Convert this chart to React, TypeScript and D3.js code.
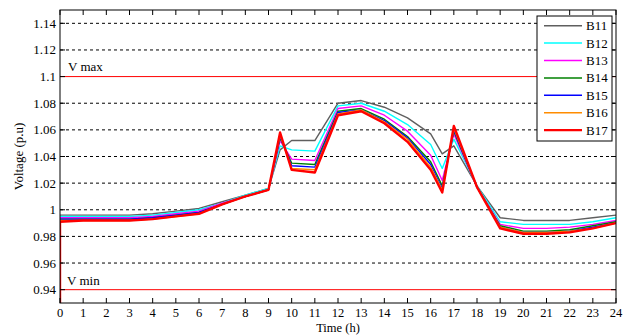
import { useEffect, useRef } from "react";
import * as d3 from "d3";

// hours of the day (half-hour steps around the switching events)
const times = [0, 1, 2, 3, 4, 5, 6, 7, 8, 9, 9.5, 10, 11, 12, 13, 14, 15, 16, 16.5, 17, 18, 19, 20, 21, 22, 23, 24];

const b11 = [0.996, 0.996, 0.996, 0.996, 0.997, 0.999, 1.001, 1.006, 1.011, 1.016, 1.045, 1.052, 1.052, 1.080, 1.082, 1.077, 1.069, 1.057, 1.042, 1.048, 1.018, 0.994, 0.992, 0.992, 0.992, 0.994, 0.996];
const b12 = [0.995, 0.995, 0.995, 0.995, 0.996, 0.998, 1.000, 1.005, 1.011, 1.016, 1.048, 1.045, 1.044, 1.078, 1.080, 1.074, 1.064, 1.049, 1.031, 1.053, 1.018, 0.991, 0.989, 0.989, 0.989, 0.991, 0.994];
const b13 = [0.994, 0.994, 0.994, 0.994, 0.995, 0.997, 0.999, 1.005, 1.010, 1.015, 1.052, 1.038, 1.037, 1.076, 1.078, 1.071, 1.059, 1.041, 1.022, 1.057, 1.017, 0.989, 0.986, 0.986, 0.987, 0.989, 0.992];
const b14 = [0.993, 0.993, 0.993, 0.993, 0.994, 0.996, 0.998, 1.004, 1.010, 1.015, 1.054, 1.035, 1.034, 1.074, 1.076, 1.068, 1.055, 1.036, 1.018, 1.059, 1.017, 0.988, 0.984, 0.984, 0.985, 0.988, 0.991];
const b15 = [0.993, 0.993, 0.993, 0.993, 0.994, 0.996, 0.998, 1.004, 1.010, 1.015, 1.055, 1.033, 1.032, 1.073, 1.075, 1.067, 1.054, 1.034, 1.016, 1.060, 1.017, 0.987, 0.983, 0.983, 0.984, 0.987, 0.990];
const b16 = [0.992, 0.992, 0.992, 0.992, 0.993, 0.995, 0.997, 1.004, 1.010, 1.015, 1.056, 1.031, 1.030, 1.072, 1.075, 1.066, 1.053, 1.032, 1.015, 1.061, 1.017, 0.987, 0.983, 0.983, 0.984, 0.986, 0.990];
const b17 = [0.991, 0.992, 0.992, 0.992, 0.993, 0.995, 0.997, 1.004, 1.010, 1.015, 1.058, 1.030, 1.028, 1.071, 1.074, 1.065, 1.051, 1.030, 1.013, 1.063, 1.017, 0.986, 0.982, 0.982, 0.983, 0.986, 0.990];

const seriesNames = ["B11", "B12", "B13", "B14", "B15", "B16", "B17"];
const seriesValues = [b11, b12, b13, b14, b15, b16, b17];
const seriesColors = ["#5f5f5f", "#00ffff", "#ff00ff", "#008000", "#0000ff", "#ff8c00", "#ff0000"];

const yTicks = [0.94, 0.96, 0.98, 1, 1.02, 1.04, 1.06, 1.08, 1.1, 1.12, 1.14];
const xTicks = d3.range(0, 25);
const vMax = 1.1;
const vMin = 0.94;

export default function App() {
  const svgRef = useRef<SVGSVGElement>(null);

  useEffect(() => {
    if (!svgRef.current) return;
    const svg = d3.select(svgRef.current);
    svg.selectAll("*").remove();

    const left = 60, right = 616, top = 10, bottom = 303;
    const font = "'Liberation Serif', 'DejaVu Serif', serif";

    const x = d3.scaleLinear().domain([0, 24]).range([left, right]);
    const y = d3.scaleLinear().domain([0.93, 1.15]).range([bottom, top]);

    svg.append("rect").attr("width", 630).attr("height", 336).attr("fill", "#fff");

    svg.append("defs").append("clipPath").attr("id", "plot")
      .append("rect").attr("x", left).attr("y", top)
      .attr("width", right - left).attr("height", bottom - top);

    // dashed grid
    svg.append("g").selectAll("line")
      .data(yTicks.filter((t) => t !== vMax && t !== vMin))
      .enter().append("line")
      .attr("x1", left).attr("x2", right)
      .attr("y1", (d) => y(d)).attr("y2", (d) => y(d))
      .attr("stroke", "#000").attr("stroke-width", 1)
      .attr("stroke-dasharray", "3,3");

    // limits
    [vMax, vMin].forEach((v) => {
      svg.append("line")
        .attr("x1", left).attr("x2", right)
        .attr("y1", y(v)).attr("y2", y(v))
        .attr("stroke", "#ff0000").attr("stroke-width", 1);
    });
    svg.append("text").attr("x", 68).attr("y", y(vMax) - 6)
      .style("font-family", font).attr("font-size", 13).text("V max");
    svg.append("text").attr("x", 67).attr("y", y(vMin) - 5)
      .style("font-family", font).attr("font-size", 13).text("V min");

    // series
    const line = d3.line<[number, number]>()
      .x((d) => x(d[0]))
      .y((d) => y(d[1]));

    const g = svg.append("g").attr("clip-path", "url(#plot)");
    seriesValues.forEach((vals, i) => {
      const pts: [number, number][] = vals.map((v, j) => [times[j], v]);
      if (i === seriesValues.length - 1) pts.unshift([0, 0]);
      g.append("path")
        .attr("d", line(pts))
        .attr("fill", "none")
        .attr("stroke", seriesColors[i])
        .attr("stroke-width", i === seriesValues.length - 1 ? 2.4 : 1.4)
        .attr("stroke-linejoin", "round");
    });

    // frame
    svg.append("rect").attr("x", left).attr("y", top)
      .attr("width", right - left).attr("height", bottom - top)
      .attr("fill", "none").attr("stroke", "#000").attr("stroke-width", 1);

    // ticks, inward on all four sides
    const tickLen = 5;
    const tg = svg.append("g").attr("stroke", "#000").attr("stroke-width", 1);
    xTicks.forEach((t) => {
      tg.append("line").attr("x1", x(t)).attr("x2", x(t)).attr("y1", bottom).attr("y2", bottom - tickLen);
      tg.append("line").attr("x1", x(t)).attr("x2", x(t)).attr("y1", top).attr("y2", top + tickLen);
    });
    yTicks.forEach((t) => {
      tg.append("line").attr("x1", left).attr("x2", left + tickLen).attr("y1", y(t)).attr("y2", y(t));
      tg.append("line").attr("x1", right).attr("x2", right - tickLen).attr("y1", y(t)).attr("y2", y(t));
    });

    svg.append("g").selectAll("text").data(xTicks).enter().append("text")
      .attr("x", (d) => x(d)).attr("y", bottom + 14)
      .attr("text-anchor", "middle")
      .style("font-family", font).attr("font-size", 12.5)
      .text((d) => String(d));

    svg.append("g").selectAll("text").data(yTicks).enter().append("text")
      .attr("x", left - 4).attr("y", (d) => y(d) + 4.5)
      .attr("text-anchor", "end")
      .style("font-family", font).attr("font-size", 13)
      .text((d) => String(d));

    svg.append("text").attr("x", (left + right) / 2).attr("y", 332)
      .attr("text-anchor", "middle")
      .style("font-family", font).attr("font-size", 12.5).text("Time (h)");

    svg.append("text")
      .attr("transform", `translate(23,${(top + bottom) / 2}) rotate(-90)`)
      .attr("text-anchor", "middle")
      .style("font-family", font).attr("font-size", 13).text("Voltage (p.u)");

    // legend
    const lg = svg.append("g");
    lg.append("rect").attr("x", 537).attr("y", 16).attr("width", 75).attr("height", 125)
      .attr("fill", "#fff").attr("stroke", "#000").attr("stroke-width", 1);
    seriesNames.forEach((name, i) => {
      const ly = 25.7 + i * 17.4;
      lg.append("line").attr("x1", 544).attr("x2", 582).attr("y1", ly).attr("y2", ly)
        .attr("stroke", seriesColors[i]).attr("stroke-width", i === 6 ? 2.2 : 1.5);
      lg.append("text").attr("x", 586).attr("y", ly + 4.5)
        .style("font-family", font).attr("font-size", 13).text(name);
    });
  }, []);

  return (
    <svg
      ref={svgRef}
      width={630}
      height={336}
      style={{ position: "absolute", left: 0, top: 0 }}
    />
  );
}
